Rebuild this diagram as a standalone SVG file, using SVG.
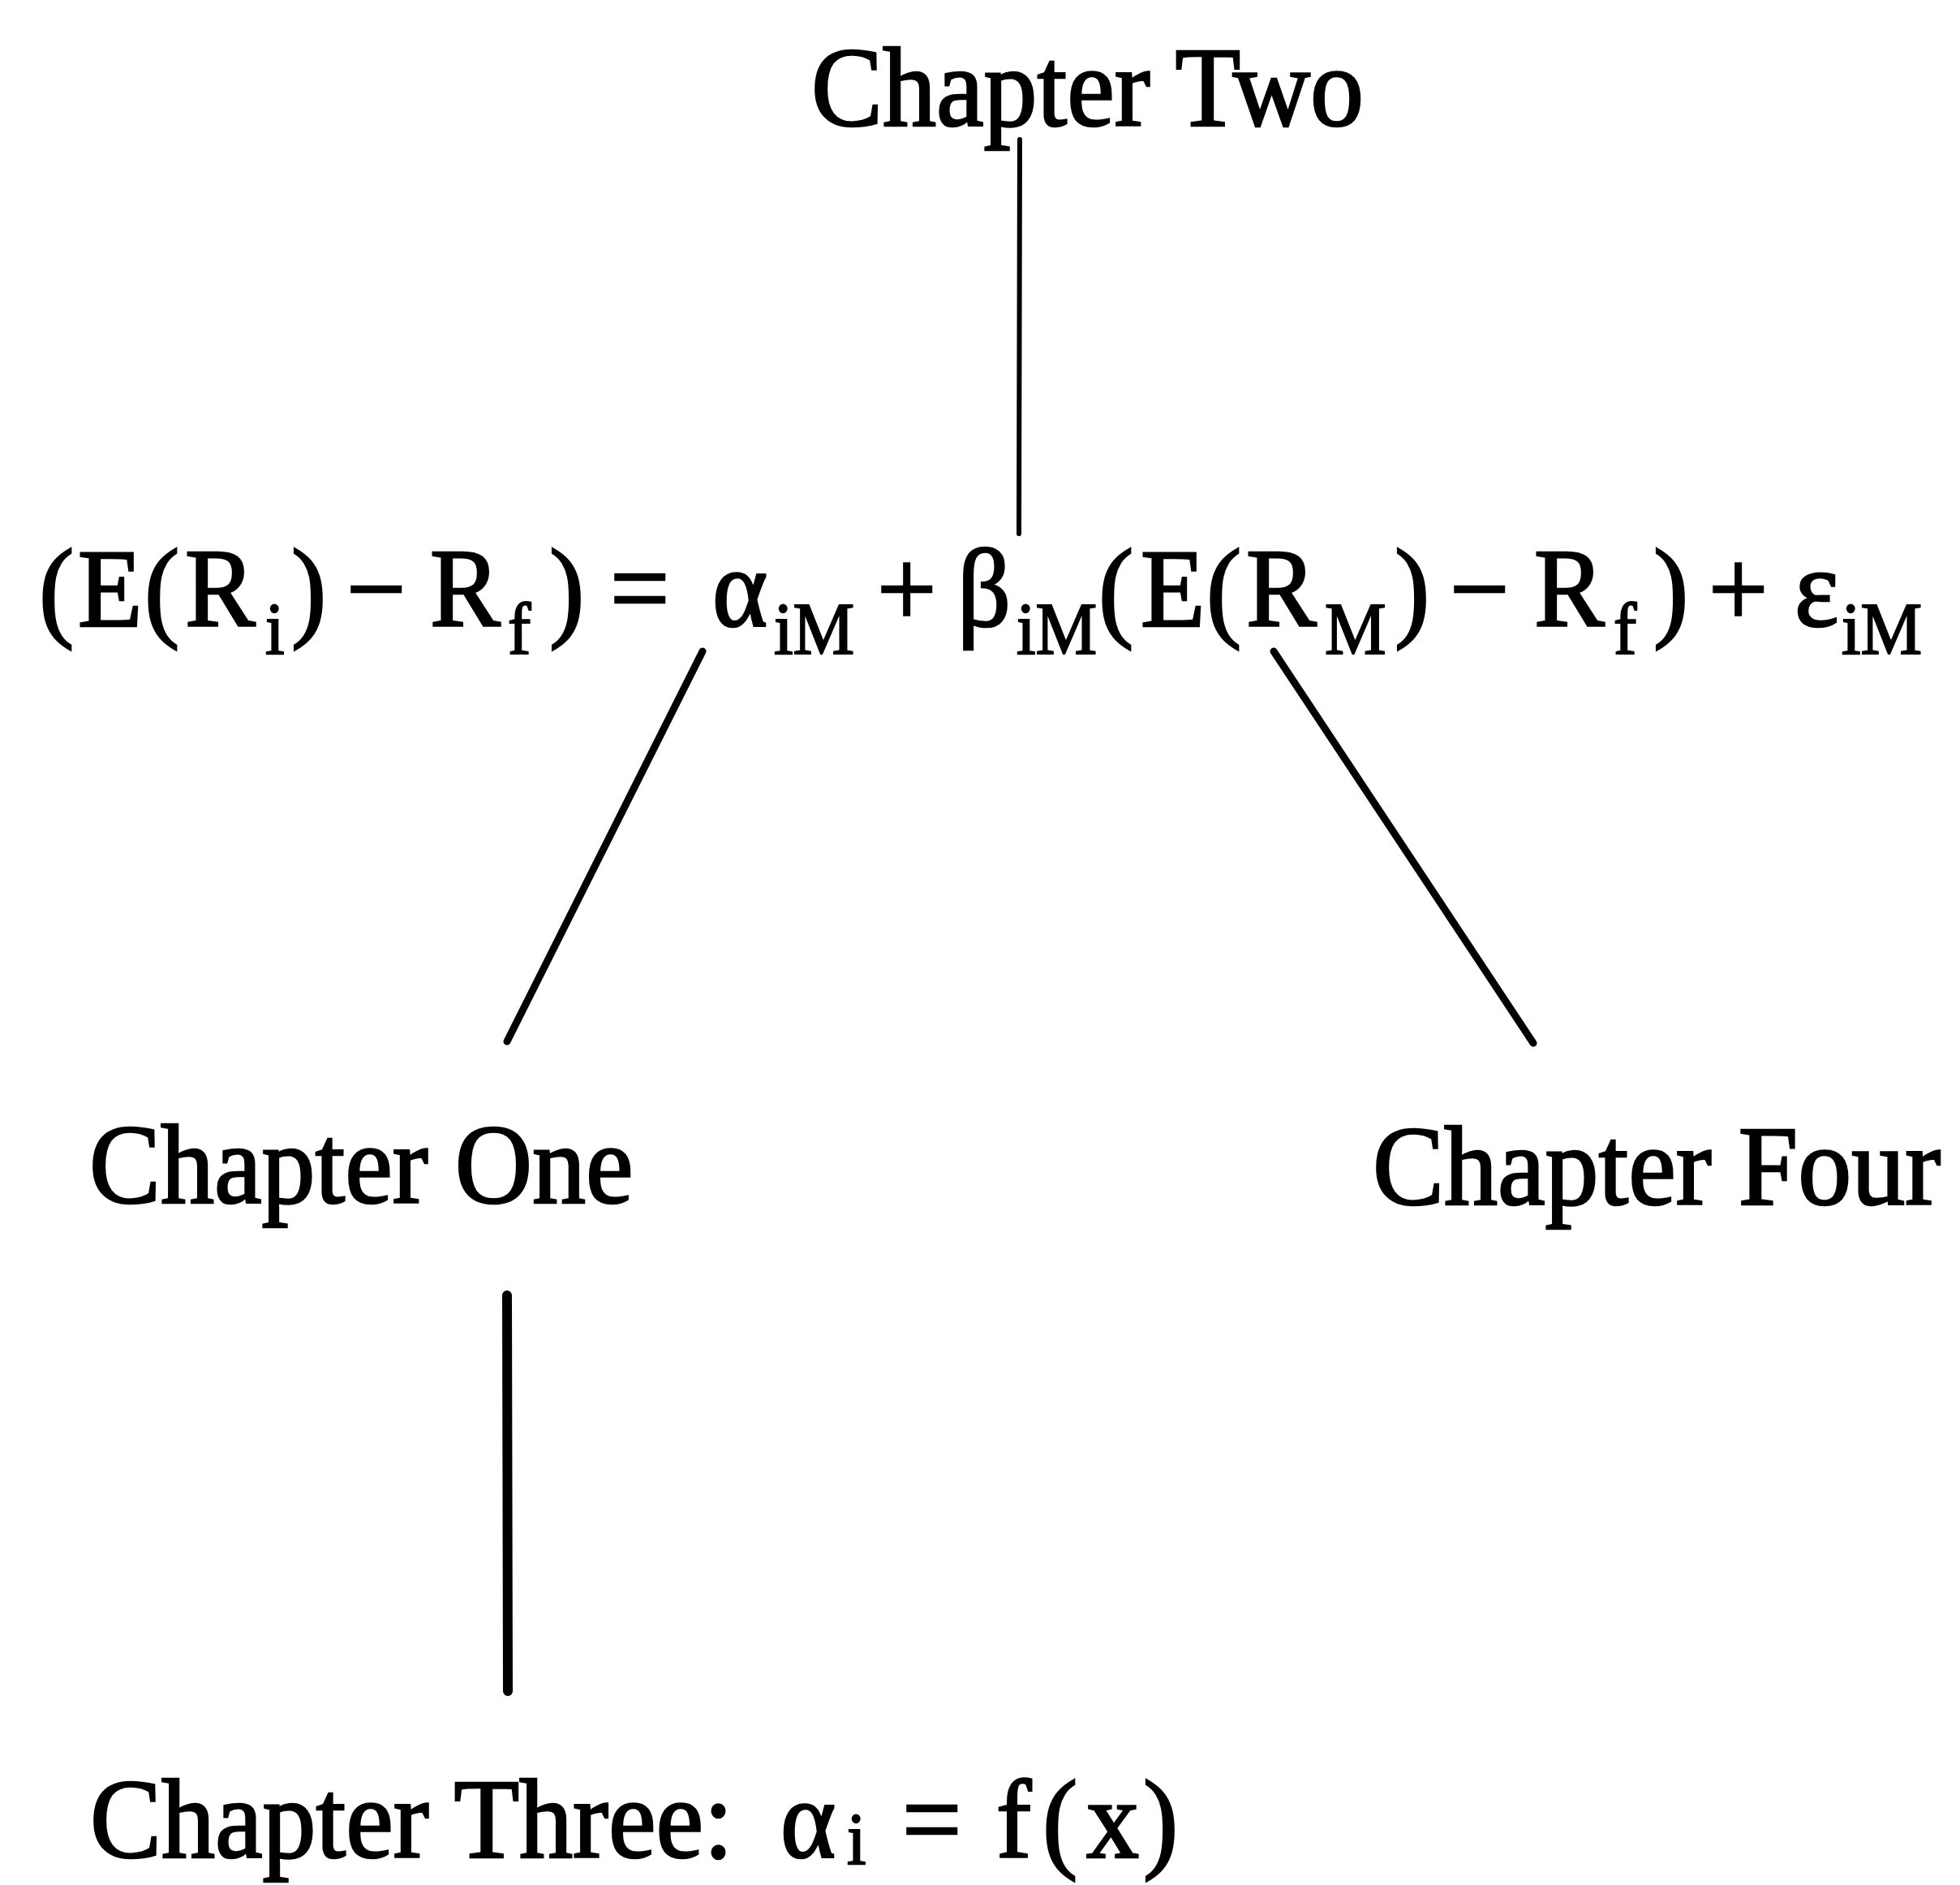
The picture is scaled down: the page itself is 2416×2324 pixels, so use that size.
<svg xmlns="http://www.w3.org/2000/svg" width="2416" height="2324" viewBox="0 0 2416 2324">
<style>
.t{font-family:"Liberation Serif","Times New Roman",serif;font-size:132px;fill:#000;stroke:#000;stroke-width:2.5}
.m{font-family:"Liberation Serif","Times New Roman",serif;font-size:130px;fill:#000;stroke:#000;stroke-width:2.5}
.s{font-family:"Liberation Serif","Times New Roman",serif;font-size:85px;fill:#000;stroke:#000;stroke-width:2}
.ln{stroke:#000;fill:none;stroke-linecap:round}
</style>
<rect width="2416" height="2324" fill="#fff"/>
<g id="connectors">
<line class="ln" x1="1257" y1="172" x2="1256" y2="658" stroke-width="6"/>
<line class="ln" x1="866" y1="803" x2="625" y2="1284" stroke-width="9"/>
<line class="ln" x1="1570" y1="803" x2="1890" y2="1286" stroke-width="9"/>
<line class="ln" x1="625" y1="1597" x2="626" y2="2085" stroke-width="12"/>
</g>
<g id="node-chapter-two">
<text class="t" transform="translate(1000,155) scale(1,1.06)">Chapter Two</text>
</g>
<g id="node-equation" transform="translate(0,772) scale(1,1.06)">
<text class="m" x="48" y="0">(</text>
<text class="m" x="96" y="0">E</text>
<text class="m" x="178" y="0">(</text>
<text class="m" x="228" y="0">R</text>
<text class="s" x="327" y="32">i</text>
<text class="m" x="359" y="0">)</text>
<text class="m" x="427" y="0">−</text>
<text class="m" x="530" y="0">R</text>
<text class="s" x="626" y="32">f</text>
<text class="m" x="677" y="0">)</text>
<text class="m" x="752" y="0">=</text>
<text class="m" x="878" y="0">α</text>
<text class="s" x="954" y="32">iM</text>
<text class="m" x="1081" y="0">+</text>
<text class="m" x="1180" y="0">β</text>
<text class="s" x="1253" y="32">iM</text>
<text class="m" x="1354" y="0">(</text>
<text class="m" x="1406" y="0">E</text>
<text class="m" x="1487" y="0">(</text>
<text class="m" x="1536" y="0">R</text>
<text class="s" x="1633" y="32">M</text>
<text class="m" x="1719" y="0">)</text>
<text class="m" x="1787" y="0">−</text>
<text class="m" x="1891" y="0">R</text>
<text class="s" x="1989" y="32">f</text>
<text class="m" x="2038" y="0">)</text>
<text class="m" x="2106" y="0">+</text>
<text class="m" x="2212" y="0">ε</text>
<text class="s" x="2270" y="32">iM</text>
</g>
<g id="node-chapter-one">
<text class="t" transform="translate(110,1483) scale(1,1.06)">Chapter One</text>
</g>
<g id="node-chapter-four">
<text class="t" transform="translate(1692,1485) scale(1,1.06)">Chapter Four</text>
</g>
<g id="node-chapter-three" transform="translate(0,2290) scale(1,1.06)">
<text class="t" x="111" y="0">Chapter Three:</text>
<text class="m" x="962" y="0">α</text>
<text class="s" x="1044" y="8">i</text>
<text class="m" x="1112" y="0">=</text>
<text class="m" x="1228" y="0">f</text>
<text class="m" x="1285" y="0">(</text>
<text class="m" x="1339" y="0">x</text>
<text class="m" x="1409" y="0">)</text>
</g>
</svg>
